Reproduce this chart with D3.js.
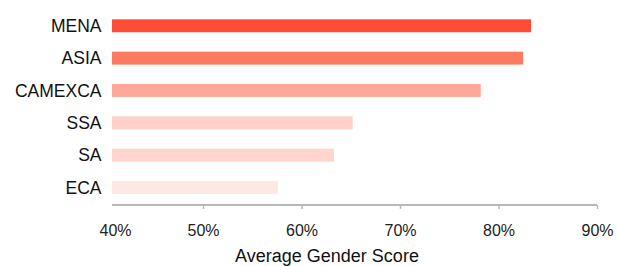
<!DOCTYPE html>
<html>
<head>
<meta charset="utf-8">
<script src="https://cdn.jsdelivr.net/npm/d3@7"></script>
<style>
  html, body { margin: 0; padding: 0; background: #fff; }
  svg { display: block; font-family: "Liberation Sans", Arial, Helvetica, sans-serif; }
</style>
</head>
<body>
<svg id="chart" width="618" height="266"></svg>
<script>
const categories = ["MENA", "ASIA", "CAMEXCA", "SSA", "SA", "ECA"];
const values = [0.833, 0.825, 0.782, 0.652, 0.633, 0.576];
const barColors = ["#ff4c36", "#fc7a60", "#ffa899", "#ffd1c9", "#ffd5ce", "#fde8e4"];
const tickValues = [0.4, 0.5, 0.6, 0.7, 0.8, 0.9];
const axisTitle = "Average Gender Score";

const W = 618, H = 266;
const plotLeft = 112, axisY = 205;
const svg = d3.select("#chart");

const x = d3.scaleLinear().domain([0.4, 0.9]).range([104.5, 597]);
const y = d3.scaleBand().domain(categories).range([9.6, 203.7]).paddingInner(0.6).paddingOuter(0.3);
const color = d3.scaleOrdinal().domain(categories).range(barColors);

// bars
svg.append("g").selectAll("rect")
  .data(categories)
  .join("rect")
  .attr("x", plotLeft)
  .attr("y", (d) => y(d))
  .attr("width", (d, i) => x(values[i]) - plotLeft)
  .attr("height", y.bandwidth())
  .attr("fill", (d) => color(d));

// category labels
svg.append("g").selectAll("text")
  .data(categories)
  .join("text")
  .attr("x", 101.5)
  .attr("y", (d) => y(d) + y.bandwidth() / 2)
  .attr("dy", "0.36em")
  .attr("text-anchor", "end")
  .attr("font-size", 17.5)
  .attr("fill", "#111")
  .text((d) => d);

// axis
const axis = d3.axisBottom(x)
  .tickValues(tickValues)
  .tickSize(4)
  .tickSizeOuter(0)
  .tickFormat(d3.format(".0%"));
const gAxis = svg.append("g").attr("transform", `translate(0,${axisY})`).call(axis);
gAxis.select(".domain").remove();
gAxis.insert("line", ":first-child")
  .attr("x1", plotLeft).attr("x2", x(0.9))
  .attr("y1", 0).attr("y2", 0)
  .attr("stroke", "#b8b8b8").attr("stroke-width", 2);
gAxis.selectAll(".tick line").attr("stroke", "#b8b8b8").attr("stroke-width", 1.5);
gAxis.selectAll(".tick").filter((d) => d === 0.4).select("line").remove();
gAxis.selectAll(".tick").filter((d) => d === 0.4).select("text").attr("dx", 10.5);
gAxis.selectAll(".tick text")
  .attr("y", 20)
  .attr("font-size", 16)
  .attr("font-family", "Liberation Sans, Arial, sans-serif")
  .attr("fill", "#222");

// axis title
svg.append("text")
  .attr("x", 327)
  .attr("y", 262)
  .attr("text-anchor", "middle")
  .attr("font-size", 18)
  .attr("fill", "#111")
  .text(axisTitle);
</script>
</body>
</html>
